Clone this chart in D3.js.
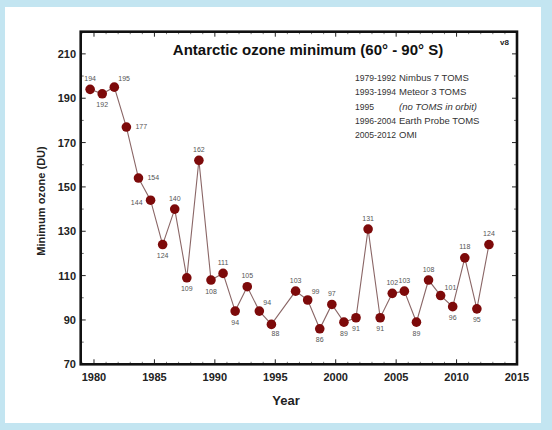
<!DOCTYPE html>
<html><head><meta charset="utf-8">
<script src="https://cdn.jsdelivr.net/npm/d3@7"></script>
<style>body{margin:0;padding:0;overflow:hidden;} svg{display:block;}</style>
</head><body>
<svg id="chart" width="552" height="430"></svg>
<script>
// ---- data ----
const years = [1979,1980,1981,1982,1983,1984,1985,1986,1987,1988,1989,1990,1991,1992,1993,1994,
               1996,1997,1998,1999,2000,2001,2002,2003,2004,2005,2006,2007,2008,2009,2010,2011,2012];
const ozoneMin = [194,192,195,177,154,144,124,140,109,162,108,111,94,105,94,88,
                  103,99,86,97,89,91,131,91,102,103,89,108,101,96,118,95,124];
// label placement for each point: a=above, b=below, r=right, ur=upper right, l=left, br=below right
const labelPos = ["a","b","ur","r","r","l","b","a","b","a","b","a","b","a","ur","br",
                  "a","ur","b","a","b","b","a","b","a","a","b","a","ur","b","a","b","a"];
const xTicks = [1980,1985,1990,1995,2000,2005,2010,2015];
const yTicks = [70,90,110,130,150,170,190,210];
const legendPeriods = ["1979-1992","1993-1994","1995","1996-2004","2005-2012"];
const legendInstruments = ["Nimbus 7 TOMS","Meteor 3 TOMS","(no TOMS in orbit)","Earth Probe TOMS","OMI"];
const title = "Antarctic ozone minimum (60\u00b0 - 90\u00b0 S)";
const versionTag = "v8";
const xTitle = "Year";
const yTitle = "Minimum ozone (DU)";
const minimumDateFraction = 0.68; // minimum occurs late in the year

// ---- layout ----
const svg = d3.select("#chart");
svg.append("rect").attr("x",0).attr("y",0).attr("width",552).attr("height",430).attr("fill","#c3e5f1");
svg.append("rect").attr("x",5).attr("y",7).attr("width",536).attr("height",416).attr("fill","#ffffff");

const L = 80.7, R = 517, T = 31.7, B = 364.3;
const x = d3.scaleLinear().domain([1978.9, 2015]).range([L, R]);
const y = d3.scaleLinear().domain([70, 220]).range([B, T]);

const font = "Arial, 'Liberation Sans', sans-serif";

// minor/major ticks (inward) on all sides
const g = svg.append("g");
const minorX = d3.range(1979, 2015, 1).filter(v => v % 5 !== 0);
const minorY = d3.range(80, 220, 10).filter(v => !yTicks.includes(v));
function tick(x1,y1,x2,y2,w){ g.append("line").attr("x1",x1).attr("y1",y1).attr("x2",x2).attr("y2",y2).attr("stroke","#222").attr("stroke-width",w); }
xTicks.forEach(v => { if (v>1979 && v<2015){ tick(x(v),B,x(v),B-5,1); tick(x(v),T,x(v),T+5,1);} });
minorX.forEach(v => { tick(x(v),B,x(v),B-2.5,0.6); tick(x(v),T,x(v),T+2.5,0.6); });
yTicks.forEach(v => { if (v>70){ tick(L,y(v),L+5,y(v),1); tick(R,y(v),R-5,y(v),1);} });
minorY.forEach(v => { tick(L,y(v),L+3,y(v),0.7); tick(R,y(v),R-3,y(v),0.7); });

// frame
svg.append("rect").attr("x",L).attr("y",T).attr("width",R-L).attr("height",B-T)
  .attr("fill","none").attr("stroke","#111").attr("stroke-width",2.6);

// axis labels
svg.append("g").selectAll("text").data(xTicks).join("text")
  .attr("x", d => x(d)).attr("y", 380.5).attr("text-anchor","middle")
  .attr("font-family",font).attr("font-weight","bold").attr("font-size","11px").attr("fill","#222")
  .text(d => d);
svg.append("g").selectAll("text").data(yTicks).join("text")
  .attr("x", 76).attr("y", d => y(d)+4).attr("text-anchor","end")
  .attr("font-family",font).attr("font-weight","bold").attr("font-size","11px").attr("fill","#222")
  .text(d => d);

svg.append("text").attr("x",286).attr("y",405).attr("text-anchor","middle")
  .attr("font-family",font).attr("font-weight","bold").attr("font-size","13px").attr("fill","#222").text(xTitle);
svg.append("text").attr("transform","translate(45,201) rotate(-90)").attr("text-anchor","middle")
  .attr("font-family",font).attr("font-weight","bold").attr("font-size","11px").attr("fill","#222").text(yTitle);

// title
svg.append("text").attr("x",308).attr("y",55).attr("text-anchor","middle")
  .attr("font-family",font).attr("font-weight","bold").attr("font-size","15px").attr("fill","#111").text(title);
svg.append("text").attr("x",500).attr("y",45)
  .attr("font-family",font).attr("font-weight","bold").attr("font-size","8px").attr("fill","#222").text(versionTag);

// legend
const lg = svg.append("g").attr("font-family",font).attr("fill","#333");
legendPeriods.forEach((p,i) => {
  lg.append("text").attr("x",355).attr("y",81+i*14.3).attr("font-size","8.6px").text(p);
  lg.append("text").attr("x",399).attr("y",81+i*14.3)
    .attr("font-size","9.5px")
    .attr("font-style", i===2 ? "italic" : "normal").text(legendInstruments[i]);
});

// data
const data = years.map((yr,i) => ({yr, v: ozoneMin[i], pos: labelPos[i]}));
const px = d => x(d.yr + minimumDateFraction);
svg.append("path").datum(data)
  .attr("d", d3.line().x(px).y(d => y(d.v)))
  .attr("fill","none").attr("stroke","#8a6666").attr("stroke-width",1.1);
svg.append("g").selectAll("circle").data(data).join("circle")
  .attr("cx", px).attr("cy", d => y(d.v)).attr("r",4.8).attr("fill","#7d0a0a");

const off = {a:[0,-8.5,"middle"], b:[0,13.5,"middle"], r:[9,2,"start"], ur:[4,-6,"start"],
             l:[-8,5,"end"], br:[4,12,"middle"]};
svg.append("g").selectAll("text").data(data).join("text")
  .attr("x", d => px(d) + off[d.pos][0]).attr("y", d => y(d.v) + off[d.pos][1])
  .attr("text-anchor", d => off[d.pos][2])
  .attr("font-family",font).attr("font-size","7px").attr("fill","#555")
  .text(d => d.v);
</script>
</body></html>
